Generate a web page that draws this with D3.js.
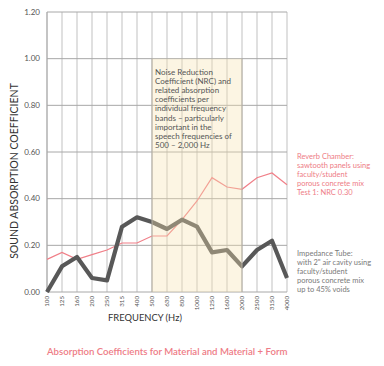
<!DOCTYPE html>
<html>
<head>
<meta charset="utf-8">
<script src="https://cdn.jsdelivr.net/npm/d3@7"></script>
<style>
  body { margin: 0; background: white; }
  text { font-family: Lato, "Open Sans", sans-serif; }
</style>
</head>
<body>
<div id="chart"></div>
<script>
// frequency bands and measured coefficients
var freqs = ["100", "125", "160", "200", "250", "315", "400", "500", "630", "800",
   "1000", "1250", "1600", "2000", "2500", "3150", "4000"];
var reverb = [0.14, 0.17, 0.14, 0.16, 0.18, 0.21, 0.21, 0.24, 0.24, 0.31,
   0.39, 0.49, 0.45, 0.44, 0.49, 0.51, 0.46];
var tube = [0.00, 0.11, 0.15, 0.06, 0.05, 0.28, 0.32, 0.30, 0.27, 0.31,
   0.28, 0.17, 0.18, 0.11, 0.18, 0.22, 0.06];
var yTicks = [0, 0.2, 0.4, 0.6, 0.8, 1.0, 1.2];
var band = ["500", "2000"];
var noteLines = ["Noise Reduction", "Coefficient (NRC) and", "related absorption",
   "coefficients per", "individual frequency", "bands \u2013 particularly",
   "important in the", "speech frequencies of", "500 \u2013 2,000 Hz"];
var reverbLabel = ["Reverb Chamber:", "sawtooth panels using", "faculty/student",
   "porous concrete mix", "Test 1: NRC 0.30"];
var tubeLabel = ["Impedance Tube:", "with 2\" air cavity using", "faculty/student",
   "porous concrete mix", "up to 45% voids"];

var W = 384, H = 366;
var margin = { top: 12, left: 47, right: 97, bottom: 74 };
var width = W - margin.left - margin.right,
   height = H - margin.top - margin.bottom;

var svg = d3.select("#chart").append("svg")
   .attr("width", W).attr("height", H);
var g = svg.append("g")
   .attr("transform", "translate(" + margin.left + "," + margin.top + ")");

var x = d3.scalePoint().domain(freqs).range([0, width]);
var y = d3.scaleLinear().domain([0, 1.2]).range([height, 0]);

// vertical grid
g.selectAll(".vgrid").data(freqs).enter().append("line")
   .attr("x1", d => x(d)).attr("x2", d => x(d))
   .attr("y1", 0).attr("y2", height)
   .attr("stroke", "#d9d9d9").attr("stroke-width", 1.6);

// horizontal grid
g.selectAll(".hgrid").data(yTicks).enter().append("line")
   .attr("x1", 0).attr("x2", width)
   .attr("y1", d => y(d)).attr("y2", d => y(d))
   .attr("stroke", "#a8a8a8").attr("stroke-width", 1);

// left border
g.append("line").attr("x1", 0).attr("x2", 0).attr("y1", 0).attr("y2", height)
   .attr("stroke", "#a8a8a8");

// lines
var line = d3.line().x((d, i) => x(freqs[i])).y(d => y(d));
g.append("path").datum(reverb)
   .attr("d", line).attr("fill", "none")
   .attr("stroke", "#f07f88").attr("stroke-width", 1.2);
g.append("path").datum(tube)
   .attr("d", line).attr("fill", "none")
   .attr("stroke", "#585858").attr("stroke-width", 4.2)
   .attr("stroke-linejoin", "round");

// speech band highlight
g.append("rect")
   .attr("x", x(band[0])).attr("y", y(1.0))
   .attr("width", x(band[1]) - x(band[0])).attr("height", y(0) - y(1.0))
   .attr("fill", "#f6e3b0").attr("opacity", 0.35);
g.selectAll(".bandedge").data(band).enter().append("line")
   .attr("x1", d => x(d)).attr("x2", d => x(d))
   .attr("y1", y(1.0)).attr("y2", height)
   .attr("stroke", "#b5b0a5").attr("stroke-width", 1);

// note text in band
g.append("text")
   .attr("x", x(band[0]) + 3).attr("y", 63)
   .attr("font-size", 8).attr("fill", "#555")
   .selectAll("tspan").data(noteLines).enter().append("tspan")
   .attr("x", x(band[0]) + 3).attr("dy", (d, i) => i ? 9.1 : 0)
   .text(d => d);

// y axis ticks
g.selectAll(".ylab").data(yTicks).enter().append("text")
   .attr("x", -7).attr("y", d => y(d)).attr("dy", "0.35em")
   .attr("text-anchor", "end").attr("font-size", 8).attr("fill", "#555")
   .text(d => d.toFixed(2));

// x axis ticks (rotated)
g.selectAll(".xlab").data(freqs).enter().append("text")
   .attr("transform", d => "translate(" + (x(d) + 2.3) + "," + (height + 4) + ") rotate(-90)")
   .attr("text-anchor", "end").attr("font-size", 6.2).attr("fill", "#555")
   .text(d => d);

// axis titles
svg.append("text")
   .attr("transform", "translate(18,171) rotate(-90)")
   .attr("text-anchor", "middle").attr("font-size", 10.5).attr("fill", "#333")
   .text("SOUND ABSORPTION COEFFICIENT");
svg.append("text")
   .attr("x", 145).attr("y", 321)
   .attr("text-anchor", "middle").attr("font-size", 9.4).attr("fill", "#333")
   .text("FREQUENCY (Hz)");

// series annotations
svg.append("text")
   .attr("x", 297).attr("y", 159)
   .attr("font-size", 7.5).attr("fill", "#ee7c86")
   .selectAll("tspan").data(reverbLabel).enter().append("tspan")
   .attr("x", 297).attr("dy", (d, i) => i ? 9 : 0)
   .text(d => d);
svg.append("text")
   .attr("x", 297).attr("y", 256)
   .attr("font-size", 7.5).attr("fill", "#7a7a7a")
   .selectAll("tspan").data(tubeLabel).enter().append("tspan")
   .attr("x", 297).attr("dy", (d, i) => i ? 9 : 0)
   .text(d => d);

// title
svg.append("text")
   .attr("x", 47).attr("y", 355)
   .attr("font-size", 9.6).attr("font-weight", 600).attr("fill", "#ee7c86")
   .text("Absorption Coefficients for Material and Material + Form");
</script>
</body>
</html>
